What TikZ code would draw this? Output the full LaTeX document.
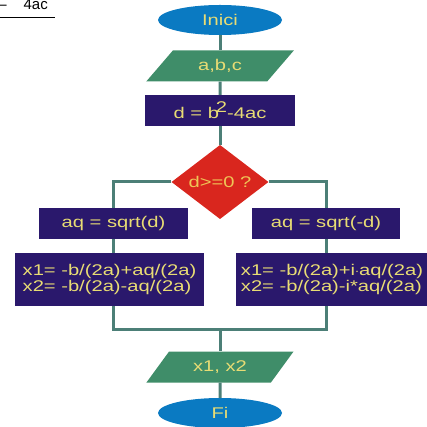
\documentclass[tikz,border=0pt]{standalone}
\usepackage{fontspec}
\setmainfont{Liberation Sans}
\newfontfamily\wideFont[FakeStretch=1.3]{Liberation Sans}
\usetikzlibrary{shapes.geometric}
\definecolor{termBlue}{HTML}{0A7AC2}
\definecolor{ioGreen}{HTML}{3F8D69}
\definecolor{procPurple}{HTML}{2A186C}
\definecolor{testRed}{HTML}{D9261E}
\definecolor{linkTeal}{HTML}{4C7F77}
\definecolor{labelYellow}{HTML}{E8DC74}

\begin{document}
\begin{tikzpicture}[x=1pt, y=-1pt,
  every node/.style={font=\wideFont\fontsize{15.5}{16}\selectfont, text=labelYellow, inner sep=0pt},
  terminal/.style={ellipse, fill=termBlue, minimum width=124pt, minimum height=30pt},
  ioBox/.style={trapezium, trapezium left angle=47, trapezium right angle=133, trapezium stretches=true, fill=ioGreen, minimum width=148pt, minimum height=31pt},
  procBox/.style={rectangle, fill=procPurple, minimum height=31pt, align=left},
  decision/.style={diamond, fill=testRed, minimum width=97pt, minimum height=68pt, text=labelYellow!75!orange},
  link/.style={draw=linkTeal, line width=3pt}]
  \useasboundingbox (0,0) rectangle (426,427);

  % cut fraction at the top left
  \node[anchor=base east, text=black, font=\fontsize{15}{16}\selectfont] (fracTop) at (48,10) {–\hspace{17pt}4ac};
  \coordinate (fracLeft) at (0,17);
  \coordinate (fracRight) at (55,17);
  \draw[line width=0.8pt] (fracLeft) -- (fracRight);

  % main column
  \node[terminal] (inici) at (220,20) {Inici};
  \node[ioBox] (inputAbc) at (220,66) {a,b,c};
  \node[procBox, minimum width=150pt] (discrim) at (220,110.5) {d = b\kern-3pt\raisebox{6pt}{2}-4ac};
  \node[decision] (testD) at (220,182) {d>=0 ?};

  % two branches
  \node[procBox, minimum width=149pt] (aqPos) at (113.5,223.5) {aq = sqrt(d)};
  \node[procBox, minimum width=148pt] (aqNeg) at (326,223.5) {aq = sqrt(-d)};
  \node[procBox, minimum width=189pt, minimum height=53pt] (rootsPos) at (109.5,279.5) {x1= -b/(2a)+aq/(2a)\\x2= -b/(2a)-aq/(2a)};
  \node[procBox, minimum width=192pt, minimum height=53pt] (rootsNeg) at (332,279.5) {x1= -b/(2a)+i$\cdot$aq/(2a)\\x2= -b/(2a)-i*aq/(2a)};

  \coordinate (joinPt) at (220,329);
  \node[ioBox] (outputX) at (220,367) {x1, x2};
  \node[terminal] (fi) at (220,413) {Fi};

  \draw[link] (inici) -- (inputAbc);
  \draw[link] (inputAbc) -- (discrim);
  \draw[link] (discrim) -- (testD);
  \draw[link] (testD.west) -| (aqPos.north);
  \draw[link] (testD.east) -| (aqNeg.north);
  \draw[link] (aqPos.south) -- (aqPos.south |- rootsPos.north);
  \draw[link] (aqNeg.south) -- (aqNeg.south |- rootsNeg.north);
  \draw[link] (aqPos.south |- rootsPos.south) |- (joinPt) -| (aqNeg.south |- rootsNeg.south);
  \draw[link] (joinPt) -- (outputX);
  \draw[link] (outputX) -- (fi);
\end{tikzpicture}
\end{document}
